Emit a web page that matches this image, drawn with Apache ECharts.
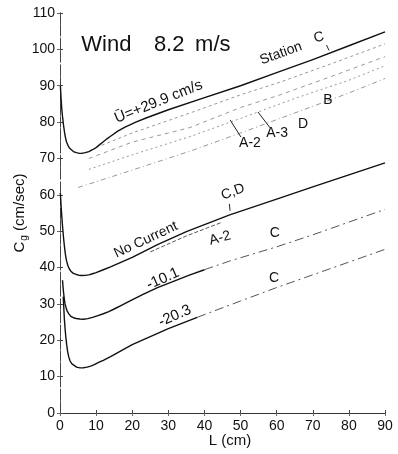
<!DOCTYPE html>
<html><head><meta charset="utf-8">
<script src="https://cdn.jsdelivr.net/npm/echarts@6/dist/echarts.min.js"></script>
<style>html,body{margin:0;padding:0;background:#fff}#c{width:398px;height:454px}</style>
</head><body><div id="c"></div>
<script>
// ---- data (L in cm, Cg in cm/s) ----
const xTicks = [0,10,20,30,40,50,60,70,80,90];
const yTicks = [0,10,20,30,40,50,60,70,80,90,100,110];

const uPlus29 = [[0.1,90],[0.3,86.5],[0.5,83.5],[0.75,81],[1,79],[1.25,77.2],[1.5,75.8],[1.8,74.6],[2.2,73.6],[2.6,72.9],[3,72.4],[3.7,71.9],[4.5,71.6],[5.2,71.45],[6,71.4],[7,71.6],[8,71.9],[9,72.4],[10,73],[11,73.8],[12,74.6],[13,75.4],[14,76.1],[16,77.5],[18,78.6],[21,80],[24,81.2],[30,83.4],[39,86.4],[50,90],[60,93.6],[70,97.2],[80,101],[90,104.8]];
const noCurrent = [[0.1,60.5],[0.3,57],[0.5,54],[0.75,50.8],[1,48],[1.25,45.6],[1.5,43.6],[1.8,41.9],[2.2,40.5],[2.6,39.6],[3,39],[3.7,38.4],[4.5,38.1],[5.2,37.9],[6,37.8],[7,37.85],[8,38],[9,38.3],[10,38.6],[12,39.4],[14,40.2],[17,41.5],[20,42.8],[27,46.3],[35,49.9],[47,54.5],[60,58.8],[70,62.2],[80,65.5],[90,68.8]];
const minus10Solid = [[0.7,36.5],[0.85,34.6],[1,33],[1.2,31.3],[1.4,30],[1.7,28.9],[2,28],[2.5,27.2],[3,26.6],[3.7,26.2],[4.5,26],[5.5,25.85],[6.5,25.8],[7.7,25.95],[9,26.3],[10.5,26.8],[12,27.3],[13.5,27.9],[15,28.6],[17,29.6],[19,30.6],[23,32.6],[27,34.5],[36,38],[40,39.4]];
const minus10Dash = [[40,39.4],[47,41.8],[60,45.7],[70,49],[80,52.5],[90,56]];
const minus20Solid = [[0.9,32],[1.05,29],[1.2,26],[1.4,23.3],[1.6,21],[1.85,18.8],[2.1,17],[2.4,15.5],[2.8,14.3],[3.3,13.5],[3.8,13],[4.6,12.6],[5.5,12.4],[6.5,12.45],[7.5,12.6],[8.5,12.9],[9.5,13.3],[10.7,13.9],[12,14.5],[14,15.5],[16,16.6],[18,17.7],[20,18.8],[25,21],[30,23.2],[38,26.3]];
const minus20Dash = [[38,26.3],[50,30.8],[60,34.5],[70,38],[80,41.5],[90,45]];
// measured (dotted) lines, stations
const stationB = [[10,73],[20,77],[36,82.5],[50,87.5],[61,91],[75,96],[90,101.5]];
const stationD = [[8,70],[20,74.5],[36,78.5],[50,84],[61,87.5],[75,92.5],[90,98]];
const stationA3 = [[8,67],[20,71],[36,76],[50,81],[65,86.5],[80,91.5],[90,95.5]];
const stationA2 = [[5,62],[20,66.8],[36,72],[50,77],[65,82.5],[80,88],[90,92]];
const noCurA2 = [[25,44.3],[35,48.7],[45,52.5]];

const FONT = '"Liberation Sans", Arial, sans-serif';
const chart = echarts.init(document.getElementById('c'));

function solid(data, w){return {type:'line', data, showSymbol:false, smooth:false, lineStyle:{color:'#111', width:w||1.4, join:'round'}, silent:true, z:3};}
function dashed(data, t, c){return {type:'line', data, showSymbol:false, smooth:false, lineStyle:{color:c||'#999', width:1, type:t}, silent:true, z:2};}

chart.setOption({
  animation:false,
  backgroundColor:'#fff',
  grid:{left:60, right:13, top:13, bottom:41},
  xAxis:[{type:'value', min:0, max:90, interval:10, position:'bottom',
    axisLine:{show:true, lineStyle:{color:'#666', width:1, type:[6,3]}},
    axisTick:{show:true, inside:true, length:3, lineStyle:{color:'#444'}},
    axisLabel:{color:'#111', fontSize:14, fontFamily:FONT, margin:6},
    splitLine:{show:false}},
   {type:'value', min:0, max:90, interval:10, position:'top',
    axisLine:{show:true, lineStyle:{color:'#333', width:1}},
    axisTick:{show:true, inside:true, length:3, lineStyle:{color:'#666'}},
    axisLabel:{show:false}, splitLine:{show:false}}],
  yAxis:[{type:'value', min:0, max:110, interval:10, position:'left',
    axisLine:{show:true, lineStyle:{color:'#666', width:1, type:[6,3]}},
    axisTick:{show:true, inside:true, length:3, lineStyle:{color:'#444'}},
    axisLabel:{color:'#111', fontSize:14, fontFamily:FONT, margin:5},
    splitLine:{show:false}},
   {type:'value', min:0, max:110, interval:10, position:'right',
    axisLine:{show:true, lineStyle:{color:'#444', width:1, type:[10,3]}},
    axisTick:{show:true, inside:true, length:3, lineStyle:{color:'#666'}},
    axisLabel:{show:false}, splitLine:{show:false}}],
  series:[
    solid(uPlus29), solid(noCurrent), solid(minus10Solid), solid(minus20Solid),
    dashed(minus10Dash,[9,4,2,4],'#555'), dashed(minus20Dash,[9,4,2,4],'#555'),
    dashed(stationB,[3,3]), dashed(stationD,[4,4]), dashed(stationA3,[2,3]), dashed(stationA2,[5,3,1,3]),
    dashed(noCurA2,[4,2],'#555')
  ]
});

// annotations in data coordinates
const labels = [
  {t:'Station', at:[61.2,98.9], r:20, s:14},
  {t:'C', at:[71.7,103.3], r:15, s:14},
  {t:'Ū=+29.9 cm/s', at:[27.3,85.6], r:22, s:15},
  {t:'A-2', at:[52.6,74.3], r:0, s:14},
  {t:'A-3', at:[60.1,77], r:0, s:14},
  {t:'D', at:[67.3,79.5], r:0, s:14},
  {t:'B', at:[74.2,86], r:0, s:14},
  {t:'C,D', at:[47.9,60.8], r:20, s:14},
  {t:'No Current', at:[23.8,47.6], r:25, s:14},
  {t:'A-2', at:[44.3,48.1], r:15, s:14},
  {t:'C', at:[59.5,49.5], r:0, s:14},
  {t:'C', at:[59.3,37.1], r:0, s:14},
  {t:'-10.1', at:[28.5,36.9], r:24, s:15},
  {t:'-20.3', at:[31.8,26.7], r:24, s:15}
];
const leaders = [
  [[73.8,101.2],[74.5,99.7]],
  [[47.1,80.6],[50.1,75.9]],
  [[54.8,82.8],[58.2,78.4]],
  [[46.9,57.5],[47.1,55.6]]
];
const px = p => chart.convertToPixel({gridIndex:0}, p);
const g = [];
labels.forEach(l => {
  const p = px(l.at);
  g.push({type:'text', x:p[0], y:p[1], rotation:l.r*Math.PI/180, z:10,
    style:{text:l.t, fontSize:l.s, fontFamily:FONT, fill:'#111', align:'center', verticalAlign:'middle'}});
});
leaders.forEach(s => {
  const a = px(s[0]), b = px(s[1]);
  g.push({type:'line', shape:{x1:a[0], y1:a[1], x2:b[0], y2:b[1]}, style:{stroke:'#222', lineWidth:1}, z:10});
});
// title
[['Wind',5.9],['8.2',26.0],['m/s',37.4]].forEach(([t,L]) => {
  const p = px([L,101.2]);
  g.push({type:'text', x:p[0], y:p[1], style:{text:t, fontSize:22, fontFamily:FONT, fill:'#111', align:'left', verticalAlign:'middle'}, z:10});
});
// axis names
g.push({type:'text', x:20, y:213, rotation:Math.PI/2, z:10,
  style:{text:'{a|C}{s|g}{a| (cm/sec)}', align:'center', verticalAlign:'middle',
    rich:{a:{fontSize:15, fontFamily:FONT, fill:'#111'}, s:{fontSize:10, fontFamily:FONT, fill:'#111', padding:[9,0,0,1]}}}});
g.push({type:'text', x:230, y:441, z:10,
  style:{text:'L (cm)', fontSize:15, fontFamily:FONT, fill:'#111', align:'center', verticalAlign:'middle'}});
chart.setOption({graphic:g});
</script>
</body></html>
